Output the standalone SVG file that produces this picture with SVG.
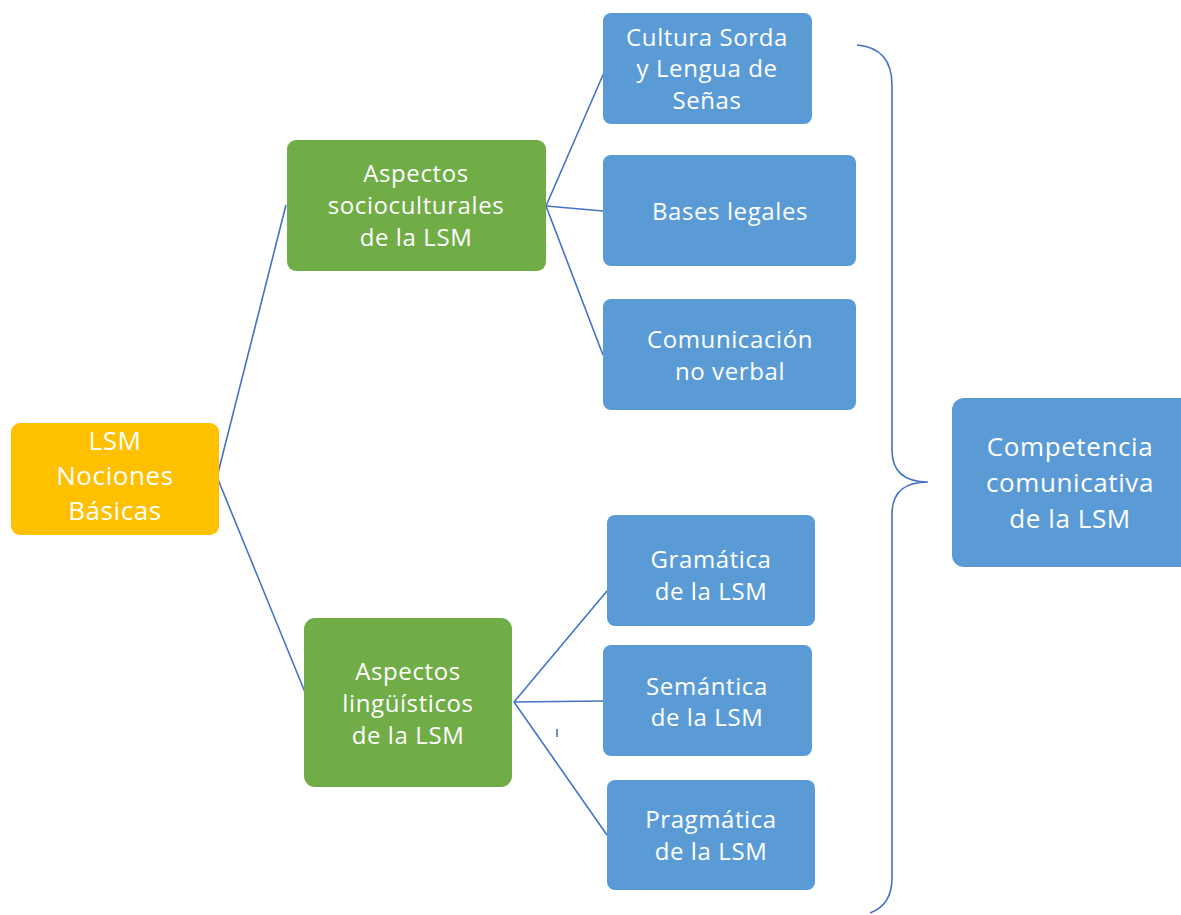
<svg xmlns="http://www.w3.org/2000/svg" width="1181" height="915" viewBox="0 0 1181 915">
<style>
.lbl{font-family:"Open Sans","Liberation Sans",sans-serif;fill:#ffffff;text-anchor:middle;font-size:24px;letter-spacing:0.6px}
.big{font-size:26px}
.con{fill:none;stroke:#4472C4;stroke-width:1.6}
.blue{fill:#5B9BD5}
.green{fill:#70AD47}
.orange{fill:#FFC000}
</style>
<rect width="1181" height="915" fill="#ffffff"/>
<g id="connectors">
<path class="con" d="M217 477 L286 205"/>
<path class="con" d="M217 477 L309 702"/>
<path class="con" d="M546 206 L606 68"/>
<path class="con" d="M546 206 L603 211"/>
<path class="con" d="M546 206 L603 355"/>
<path class="con" d="M514 702 L607 591"/>
<path class="con" d="M514 702 L603 701"/>
<path class="con" d="M514 702 L607 835"/>
<path class="con" d="M557 729 L557 737"/>
<path class="con" d="M857 45 Q892 48 892 85 L892 450 Q892 482 928 482 Q892 482 892 514 L892 878 Q892 905 870 913"/>
</g>
<g id="root"><rect class="orange" x="11" y="423" width="208" height="112" rx="9"/>
<text class="lbl big" x="115" y="450">LSM</text><text class="lbl big" x="115" y="485">Nociones</text><text class="lbl big" x="115" y="520">Básicas</text></g>
<g id="socio"><rect class="green" x="287" y="140" width="259" height="131" rx="9"/>
<text class="lbl" x="416" y="182">Aspectos</text><text class="lbl" x="416" y="214">socioculturales</text><text class="lbl" x="416" y="246">de la LSM</text></g>
<g id="ling"><rect class="green" x="304" y="618" width="208" height="169" rx="11"/>
<text class="lbl" x="408" y="680">Aspectos</text><text class="lbl" x="408" y="712">lingüísticos</text><text class="lbl" x="408" y="744">de la LSM</text></g>
<g id="cultura"><rect class="blue" x="603" y="13" width="209" height="111" rx="8"/>
<text class="lbl" x="707" y="46">Cultura Sorda</text><text class="lbl" x="707" y="77">y Lengua de</text><text class="lbl" x="707" y="109">Señas</text></g>
<g id="bases"><rect class="blue" x="603" y="155" width="253" height="111" rx="8"/>
<text class="lbl" x="730" y="220">Bases legales</text></g>
<g id="comunicacion"><rect class="blue" x="603" y="299" width="253" height="111" rx="8"/>
<text class="lbl" x="730" y="348">Comunicación</text><text class="lbl" x="730" y="380">no verbal</text></g>
<g id="gramatica"><rect class="blue" x="607" y="515" width="208" height="111" rx="8"/>
<text class="lbl" x="711" y="568">Gramática</text><text class="lbl" x="711" y="600">de la LSM</text></g>
<g id="semantica"><rect class="blue" x="603" y="645" width="209" height="111" rx="8"/>
<text class="lbl" x="707" y="695">Semántica</text><text class="lbl" x="707" y="726">de la LSM</text></g>
<g id="pragmatica"><rect class="blue" x="607" y="780" width="208" height="110" rx="8"/>
<text class="lbl" x="711" y="828">Pragmática</text><text class="lbl" x="711" y="860">de la LSM</text></g>
<g id="competencia"><rect class="blue" x="952" y="398" width="240" height="169" rx="12"/>
<text class="lbl big" x="1070" y="456">Competencia</text><text class="lbl big" x="1070" y="492">comunicativa</text><text class="lbl big" x="1070" y="528">de la LSM</text></g>
</svg>
